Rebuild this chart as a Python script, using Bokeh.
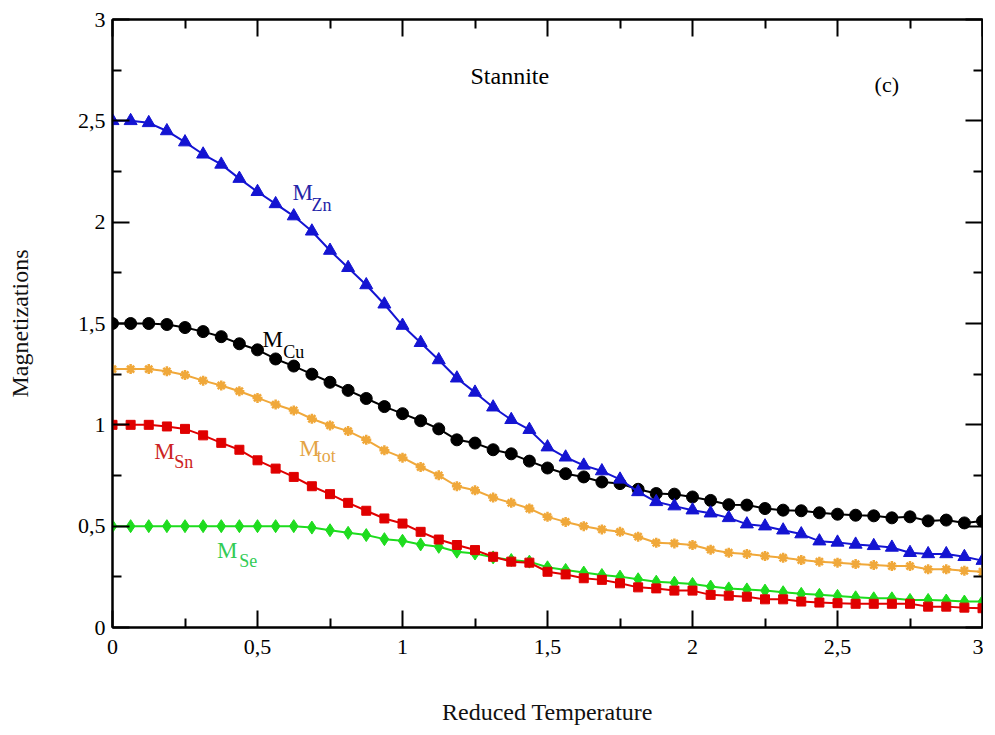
from bokeh.plotting import figure
from bokeh.models import Range1d, FixedTicker, LinearAxis, Label, CustomJSTickFormatter
from bokeh.embed import file_html
from bokeh.resources import INLINE

# ---------------- data ----------------
T = [0.0, 0.0625, 0.125, 0.1875, 0.25, 0.3125, 0.375, 0.4375, 0.5, 0.5625,
     0.625, 0.6875, 0.75, 0.8125, 0.875, 0.9375, 1.0, 1.0625, 1.125, 1.1875,
     1.25, 1.3125, 1.375, 1.4375, 1.5, 1.5625, 1.625, 1.6875, 1.75, 1.8125,
     1.875, 1.9375, 2.0, 2.0625, 2.125, 2.1875, 2.25, 2.3125, 2.375, 2.4375,
     2.5, 2.5625, 2.625, 2.6875, 2.75, 2.8125, 2.875, 2.9375, 3.0]

M_Zn = [2.50, 2.50, 2.49, 2.45, 2.395, 2.335, 2.285, 2.215, 2.15, 2.09,
        2.03, 1.955, 1.86, 1.775, 1.69, 1.595, 1.49, 1.405,
        1.32, 1.23, 1.16, 1.087, 1.025, 0.976, 0.89, 0.84, 0.80, 0.772,
        0.731, 0.669, 0.62, 0.599, 0.579, 0.564,
        0.541, 0.51, 0.50, 0.48, 0.461, 0.426, 0.42, 0.41, 0.403, 0.395,
        0.369, 0.363, 0.363, 0.349, 0.33]

M_Cu = [1.50, 1.50, 1.50, 1.495, 1.48, 1.46, 1.435, 1.40, 1.37, 1.325,
        1.29, 1.25, 1.21, 1.17, 1.13, 1.09, 1.055, 1.02,
        0.98, 0.926, 0.91, 0.877, 0.857, 0.821, 0.787, 0.759, 0.743, 0.718,
        0.71, 0.682, 0.661, 0.658, 0.644, 0.627,
        0.606, 0.604, 0.587, 0.579, 0.576, 0.566, 0.559, 0.554, 0.551, 0.541,
        0.546, 0.526, 0.53, 0.516, 0.525]

M_tot = [1.275, 1.275, 1.275, 1.264, 1.246, 1.218, 1.194, 1.166, 1.133, 1.10,
         1.071, 1.03, 0.997, 0.969, 0.926, 0.874, 0.838, 0.792,
         0.751, 0.697, 0.677, 0.641, 0.615, 0.587, 0.546, 0.521, 0.50, 0.484,
         0.472, 0.448, 0.418, 0.415, 0.407, 0.384,
         0.369, 0.363, 0.353, 0.344, 0.333, 0.325, 0.32, 0.313, 0.308, 0.303,
         0.303, 0.287, 0.287, 0.28, 0.275]

M_Sn = [1.0, 1.0, 1.0, 0.992, 0.98, 0.948, 0.911, 0.877, 0.825, 0.784,
        0.743, 0.697, 0.658, 0.615, 0.576, 0.538, 0.513, 0.472,
        0.434, 0.407, 0.382, 0.349, 0.325, 0.32, 0.275, 0.262, 0.243, 0.235,
        0.218, 0.198, 0.193, 0.182, 0.182, 0.161,
        0.157, 0.152, 0.139, 0.139, 0.128, 0.123, 0.12, 0.117, 0.117, 0.117,
        0.117, 0.103, 0.103, 0.098, 0.095]

M_Se = [0.5, 0.5, 0.5, 0.5, 0.5, 0.5, 0.5, 0.5, 0.5, 0.5,
        0.5, 0.493, 0.48, 0.467, 0.456, 0.436, 0.428, 0.41,
        0.398, 0.374, 0.365, 0.346, 0.333, 0.325, 0.297, 0.284, 0.271, 0.259,
        0.251, 0.238, 0.226, 0.221, 0.215, 0.202,
        0.193, 0.188, 0.182, 0.174, 0.166, 0.161, 0.156, 0.149, 0.144, 0.144,
        0.136, 0.136, 0.133, 0.128, 0.128]

major_ticks = [0, 0.5, 1, 1.5, 2, 2.5, 3]
minor_ticks = [0.25, 0.75, 1.25, 1.75, 2.25, 2.75]
tick_labels = ["0", "0,5", "1", "1,5", "2", "2,5", "3"]

title_text = "Stannite"
panel_text = "(c)"
x_title = "Reduced Temperature"
y_title = "Magnetizations"

# ---------------- figure ----------------
SERIF = "Liberation Serif"

p = figure(width=983, height=727, x_range=Range1d(0, 3), y_range=Range1d(0, 3),
           output_backend="svg", toolbar_location=None,
           min_border_left=112, min_border_right=1, min_border_top=19,
           min_border_bottom=98, background_fill_color="white",
           border_fill_color="white")
p.xgrid.visible = False
p.ygrid.visible = False
p.outline_line_color = "black"
p.outline_line_width = 2

overrides = {t: s for t, s in zip(major_ticks, tick_labels)}


def style_axis(ax, labels=True):
    ax.ticker = FixedTicker(ticks=major_ticks, minor_ticks=minor_ticks)
    ax.axis_line_color = "black"
    ax.axis_line_width = 2
    ax.major_tick_in = 17
    ax.major_tick_out = 0
    ax.minor_tick_in = 9
    ax.minor_tick_out = 0
    ax.major_tick_line_width = 2
    ax.minor_tick_line_width = 2
    ax.major_tick_line_color = "black"
    ax.minor_tick_line_color = "black"
    if labels:
        ax.major_label_overrides = overrides
        ax.major_label_text_font = SERIF
        ax.major_label_text_font_size = "22px"
        ax.major_label_text_color = "black"
    else:
        ax.formatter = CustomJSTickFormatter(code="return '';")
        ax.major_label_standoff = 0


for ax in p.xaxis:
    style_axis(ax)
    ax.major_label_standoff = 12
    ax.axis_label = x_title
    ax.axis_label_text_font = SERIF
    ax.axis_label_text_font_style = "normal"
    ax.axis_label_text_font_size = "24px"
    ax.axis_label_text_color = "#111111"
    ax.axis_label_standoff = 42
for ax in p.yaxis:
    style_axis(ax)
    ax.major_label_standoff = 7
    ax.axis_label = y_title
    ax.axis_label_text_font = SERIF
    ax.axis_label_text_font_style = "normal"
    ax.axis_label_text_font_size = "24px"
    ax.axis_label_text_color = "#111111"
    ax.axis_label_standoff = 42

top_ax = LinearAxis()
style_axis(top_ax, labels=False)
p.add_layout(top_ax, "above")
right_ax = LinearAxis()
style_axis(right_ax, labels=False)
p.add_layout(right_ax, "right")

# ---------------- series ----------------
c_zn, c_cu, c_tot, c_sn, c_se = "#1414d2", "#000000", "#f0a83a", "#e00000", "#1edc1e"

p.line(T, M_Cu, line_color=c_cu, line_width=2)
p.scatter(T, M_Cu, marker="circle", size=12, fill_color=c_cu, line_color=c_cu)

p.line(T, M_tot, line_color=c_tot, line_width=2)
p.scatter(T, M_tot, marker="asterisk", size=10, line_color=c_tot, line_width=2.5)

p.line(T, M_Se, line_color=c_se, line_width=2)
p.scatter(T, M_Se, marker="diamond", size=13, fill_color=c_se, line_color=c_se)

p.line(T, M_Sn, line_color=c_sn, line_width=2)
p.scatter(T, M_Sn, marker="square", size=9, fill_color=c_sn, line_color=c_sn)

p.line(T, M_Zn, line_color=c_zn, line_width=2)
p.scatter(T, M_Zn, marker="triangle", size=13, fill_color=c_zn, line_color=c_zn)

# ---------------- labels ----------------
def mlabel(x, y, sub, sx, sy, color):
    p.add_layout(Label(x=x, y=y, text="M", text_font=SERIF, text_font_size="23px",
                       text_color=color, text_align="left", text_baseline="alphabetic"))
    p.add_layout(Label(x=sx, y=sy, text=sub, text_font=SERIF, text_font_size="18px",
                       text_color=color, text_align="left", text_baseline="alphabetic"))


mlabel(0.621, 2.145, "Zn", 0.686, 2.086, "#2424a8")
mlabel(0.517, 1.423, "Cu", 0.589, 1.361, "#000000")
mlabel(0.644, 0.882, "tot", 0.704, 0.845, "#e4a444")
mlabel(0.144, 0.866, "Sn", 0.213, 0.817, "#cc2222")
mlabel(0.360, 0.382, "Se", 0.437, 0.328, "#33cc55")

p.add_layout(Label(x=1.37, y=2.72, text=title_text, text_font=SERIF,
                   text_font_size="24px", text_color="black", text_align="center",
                   text_baseline="alphabetic"))
p.add_layout(Label(x=2.67, y=2.68, text=panel_text, text_font=SERIF,
                   text_font_size="22px", text_color="black", text_align="center",
                   text_baseline="alphabetic"))

open("out.html", "w").write(file_html(p, INLINE))
